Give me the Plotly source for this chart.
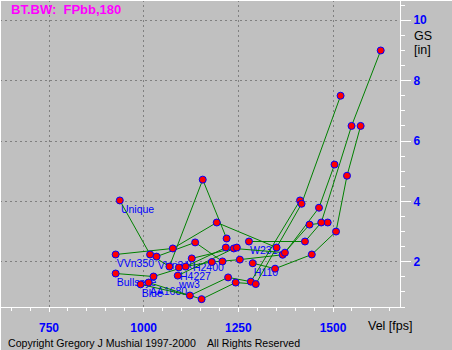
import plotly.graph_objects as go

# ---------------- data ----------------
series_names = ["Unique", "VVn350", "Bullseye", "VVn340", "Blue", "AA1680",
                "H4227", "ww3", "H2400", "W231", "H110"]

unique_vel = [937, 1017, 1068, 1156, 1219]
unique_gs = [4.03, 2.24, 1.84, 4.72, 2.77]

vvn350_vel = [926, 1077, 1193, 1351]
vvn350_gs = [2.24, 2.44, 3.30, 2.47]

bullseye_vel = [926, 1026, 1111, 1217]
bullseye_gs = [1.61, 1.51, 1.84, 2.47]

vvn340_vel = [1034, 1136, 1208]
vvn340_gs = [2.17, 2.64, 2.01]

blue_vel = [992, 1122, 1223, 1283, 1413]
blue_gs = [1.25, 0.88, 1.48, 1.34, 4.03]

aa1680_vel = [1013, 1153, 1243, 1296, 1417, 1520]
aa1680_gs = [1.31, 0.76, 1.31, 1.26, 3.92, 7.50]

h4227_vel = [1093, 1180, 1254, 1367, 1438, 1486]
h4227_gs = [1.81, 1.99, 2.07, 2.23, 3.23, 3.30]

ww_vel = [1090, 1238, 1373, 1463, 1504]
ww_gs = [1.54, 2.44, 2.30, 3.79, 5.22]

h2400_vel = [1127, 1246]
h2400_gs = [2.11, 2.47]

w231_vel = [1278, 1426, 1469, 1549, 1626]
w231_gs = [2.67, 2.67, 3.30, 6.50, 9.00]

h110_vel = [1288, 1347, 1444, 1508, 1537, 1573]
h110_gs = [1.95, 1.77, 2.24, 3.00, 4.85, 6.50]

x_tick_vals = [750, 1000, 1250, 1500]
y_tick_vals = [2, 4, 6, 8, 10]

title_text = "BT.BW:  FPbb,180"
x_title = "Vel [fps]"
y_title_1 = "GS"
y_title_2 = "[in]"
copyright_text = "Copyright Gregory J Mushial 1997-2000    All Rights Reserved"

# ---------------- build ----------------
series = [
    (unique_vel, unique_gs), (vvn350_vel, vvn350_gs), (bullseye_vel, bullseye_gs),
    (vvn340_vel, vvn340_gs), (blue_vel, blue_gs), (aa1680_vel, aa1680_gs),
    (h4227_vel, h4227_gs), (ww_vel, ww_gs), (h2400_vel, h2400_gs),
    (w231_vel, w231_gs), (h110_vel, h110_gs),
]

W, H = 452, 350
ML, MR, MT, MB = 0, 52, 0, 43
PW, PH = W - ML - MR, H - MT - MB
BG = "#C0C0C0"
LABEL_DX = 3      # fps
LABEL_DY = -0.33  # inches

def px_x(p):
    return (p - ML) / PW

def px_y(p):
    return (H - MB - p) / PH

fig = go.Figure()

# labels (drawn first, so lines and markers sit above them)
fig.add_trace(go.Scatter(
    x=[v[0] + LABEL_DX for v, g in series],
    y=[g[0] + LABEL_DY for v, g in series],
    text=series_names, mode="text", textposition="middle right",
    textfont=dict(family="Liberation Sans, Arial", size=10.5, color="#0000FF"),
    hoverinfo="skip", showlegend=False,
))

for (v, g), name in zip(series, series_names):
    fig.add_trace(go.Scatter(
        x=v, y=g, mode="lines", name=name,
        line=dict(color="#008000", width=1), showlegend=False,
    ))

all_v = [x for v, g in series for x in v]
all_g = [y for v, g in series for y in g]
fig.add_trace(go.Scatter(
    x=all_v, y=all_g, mode="markers", showlegend=False,
    marker=dict(symbol="circle", size=7, color="#FF0000",
                line=dict(color="#0000FF", width=1)),
))

axis_font = dict(family="Liberation Sans, Arial", size=12, color="#0000FF", weight="bold")
grid = dict(showgrid=True, gridcolor="#808080", gridwidth=1, griddash="2px,3px")

fig.update_layout(
    width=W, height=H,
    margin=dict(l=ML, r=MR, t=MT, b=MB, pad=0),
    paper_bgcolor=BG, plot_bgcolor=BG,
    showlegend=False,
    xaxis=dict(
        range=[620.6, 620.6 + PW / 0.37867], tickvals=x_tick_vals,
        ticks="outside", ticklen=4, tickcolor="white", tickwidth=1,
        showline=True, linecolor="white", linewidth=1, zeroline=False,
        tickfont=axis_font, ticklabelstandoff=6,
        minor=dict(dtick=50, tick0=0, ticks="outside", ticklen=3,
                   tickcolor="white", showgrid=False),
        **grid,
    ),
    yaxis=dict(
        side="right", range=[0.5, 0.5 + PH / 30.18], tickvals=y_tick_vals,
        ticks="outside", ticklen=10, tickcolor="white", tickwidth=1,
        showline=True, linecolor="white", linewidth=1, zeroline=False,
        tickfont=axis_font, ticklabelstandoff=0,
        minor=dict(dtick=0.5, tick0=0, ticks="outside", ticklen=4,
                   tickcolor="white", showgrid=False),
        **grid,
    ),
    annotations=[
        dict(text=title_text, xref="paper", yref="paper", x=px_x(9), y=px_y(9.5),
             xanchor="left", yanchor="middle", showarrow=False,
             font=dict(family="Liberation Sans, Arial", size=13, color="#FF00FF", weight="bold")),
        dict(text=y_title_1, xref="paper", yref="paper", x=px_x(412), y=px_y(36),
             xanchor="left", yanchor="middle", showarrow=False,
             font=dict(family="Liberation Sans, Arial", size=12.5, color="black")),
        dict(text=y_title_2, xref="paper", yref="paper", x=px_x(412), y=px_y(50),
             xanchor="left", yanchor="middle", showarrow=False,
             font=dict(family="Liberation Sans, Arial", size=12.5, color="black")),
        dict(text=x_title, xref="paper", yref="paper", x=px_x(366), y=px_y(326),
             xanchor="left", yanchor="middle", showarrow=False,
             font=dict(family="Liberation Sans, Arial", size=12.5, color="black")),
        dict(text=copyright_text, xref="paper", yref="paper", x=px_x(6), y=px_y(343),
             xanchor="left", yanchor="middle", showarrow=False,
             font=dict(family="Liberation Sans, Arial", size=10.6, color="black")),
    ],
    shapes=[
        dict(type="line", xref="paper", yref="paper", x0=px_x(0), x1=px_x(W),
             y0=px_y(0.5), y1=px_y(0.5), line=dict(color="white", width=1)),
        dict(type="line", xref="paper", yref="paper", x0=px_x(0.5), x1=px_x(0.5),
             y0=px_y(0), y1=px_y(H), line=dict(color="white", width=1)),
    ],
)

fig.write_html("out.html")
